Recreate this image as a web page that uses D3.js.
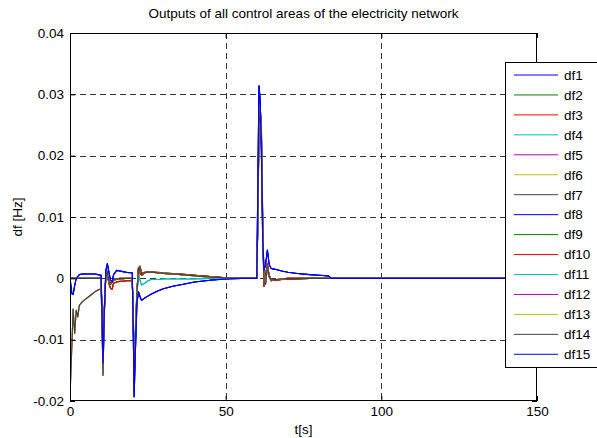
<!DOCTYPE html>
<html><head><meta charset="utf-8">
<script src="https://cdn.jsdelivr.net/npm/d3@7"></script>
<style>body{margin:0;background:#fff} svg{display:block}</style>
</head><body><svg id="c" width="597" height="438"></svg>
<script>
// ---------------- data ----------------
const time = [
  0, 0.3, 0.6, 1, 1.5, 2, 2.5, 3, 4, 5, 6, 7, 8, 9, 10,
  10.3, 10.6, 11, 11.5, 12, 12.5, 13, 13.5, 14, 15, 16, 17, 18, 19, 20,
  20.3, 20.6, 21, 21.5, 22, 22.5, 23, 24, 25, 26, 28, 30, 33, 36, 40, 45, 50, 55, 60,
  60.3, 60.7, 61.1, 61.5, 61.9, 62.3, 62.8, 63.4, 64, 64.6, 65.5, 66.5, 68, 70, 73, 77, 80, 83, 84,
  90, 100, 110, 120, 130, 140, 150
];
const blueArea = [
  0, -0.0012, -0.0025, -0.0026, -0.0012, 0.0000, 0.0003, 0.0006, 0.0007, 0.0007, 0.0007, 0.0007, 0.0007, 0.0006, 0.0005,
  -0.006, -0.0138, -0.006, 0.0012, 0.0024, 0.0010, -0.0003, -0.0006, 0.0006, 0.0013, 0.0012, 0.0011, 0.0010, 0.0009, 0.0009,
  -0.008, -0.0193, -0.012, -0.004, -0.0022, -0.0030, -0.0036, -0.0032, -0.0029, -0.0026, -0.0021, -0.0017, -0.0013, -0.0010, -0.0006, -0.0003, -0.0001, 0, 0,
  0.014, 0.0314, 0.029, 0.020, 0.006, 0.0013, 0.0022, 0.0046, 0.0022, 0.0016, 0.0015, 0.0014, 0.0012, 0.0010, 0.0008, 0.0006, 0.0005, 0.0004, 0,
  0, 0, 0, 0, 0, 0, 0
];
const redArea = [
  0, 0, 0, 0, 0, 0, 0, 0, 0, 0, 0, 0, 0, 0, 0,
  -0.007, -0.0136, -0.005, 0.0002, 0.0005, -0.0008, -0.0016, -0.0018, -0.0008, -0.0006, -0.0005, -0.0005, -0.0004, -0.0004, -0.0004,
  -0.006, -0.0155, -0.009, -0.002, 0.0018, 0.0008, 0.0005, 0.0009, 0.0010, 0.0010, 0.0009, 0.0008, 0.0007, 0.0006, 0.0005, 0.0003, 0.0001, 0, 0,
  0.008, 0.024, 0.0275, 0.022, 0.008, -0.0013, 0.0005, 0.0024, 0.0002, -0.0004, -0.0003, -0.0003, -0.0002, -0.0002, -0.0001, 0, 0, 0, 0,
  0, 0, 0, 0, 0, 0, 0
];
const grayStart = [
  -0.0195, -0.015, -0.011, -0.005, -0.009, -0.0052, -0.0063, -0.0044, -0.0038, -0.0034, -0.0030, -0.0026, -0.0022, -0.0019, -0.0017,
  -0.008, -0.0158, -0.006, 0.0005, 0.0012, -0.0004, -0.0010, -0.0007, -0.0003, -0.0002, -0.0001, -0.0001, 0, 0, 0,
  -0.007, -0.0165, -0.010, -0.003, 0.0015, 0.0020, 0.0009, 0.0010, 0.0011, 0.0011, 0.0010, 0.0009, 0.0008, 0.0007, 0.0005, 0.0003, 0.0001, 0, 0,
  0.009, 0.025, 0.028, 0.024, 0.010, 0.0000, -0.0008, 0.0018, 0.0005, -0.0002, -0.0002, -0.0002, -0.0001, 0, 0, 0, 0, 0, 0,
  0, 0, 0, 0, 0, 0, 0
];
const grayLate = [
  0, 0, 0, 0, 0, 0, 0, 0, 0, 0, 0, 0, 0, 0, 0,
  -0.0075, -0.0150, -0.0055, 0.0004, 0.0010, -0.0005, -0.0008, -0.0005, -0.0002, -0.0001, 0, 0, 0, 0, 0,
  -0.0065, -0.016, -0.0095, -0.0025, 0.0016, 0.0018, 0.0008, 0.0009, 0.0010, 0.0010, 0.0009, 0.0008, 0.0007, 0.0006, 0.0004, 0.0002, 0.0001, 0, 0,
  0.0085, 0.0245, 0.0278, 0.023, 0.009, -0.0006, -0.0010, 0.0020, 0.0003, -0.0003, -0.0002, -0.0002, -0.0001, 0, 0, 0, 0, 0, 0,
  0, 0, 0, 0, 0, 0, 0
];
const cyanArea = [
  0, 0, 0, 0, 0, 0, 0, 0, 0, 0, 0, 0, 0, 0, 0,
  -0.0075, -0.0150, -0.0055, 0.0004, 0.0010, -0.0005, -0.0008, -0.0005, -0.0002, -0.0001, 0, 0, 0, 0, 0,
  -0.006, -0.015, -0.008, -0.002, 0.0012, -0.0004, -0.0011, -0.0008, -0.0004, -0.0002, -0.0002, -0.0001, -0.0001, -0.0001, -0.0001, 0, 0, 0, 0,
  0.0085, 0.0245, 0.0278, 0.023, 0.009, -0.0006, -0.0010, 0.0020, 0.0003, -0.0003, -0.0002, -0.0002, -0.0001, 0, 0, 0, 0, 0, 0,
  0, 0, 0, 0, 0, 0, 0
];
const seriesNames = ["df1","df2","df3","df4","df5","df6","df7","df8","df9","df10","df11","df12","df13","df14","df15"];
const seriesValues = [blueArea, redArea, redArea, cyanArea, grayStart, grayStart, grayStart,
                      blueArea, redArea, redArea, cyanArea, grayLate, grayLate, grayLate, blueArea];
const seriesColors = ["#0000ff","#008000","#ff0000","#00bfbf","#bf00bf","#bfbf00","#404040",
                      "#0000ff","#008000","#ff0000","#00bfbf","#bf00bf","#bfbf00","#404040","#0000ff"];
const xTicks = [0, 50, 100, 150];
const yTicks = [-0.02, -0.01, 0, 0.01, 0.02, 0.03, 0.04];
const yTickLabels = ["-0.02", "-0.01", "0", "0.01", "0.02", "0.03", "0.04"];
const titleText = "Outputs of all control areas of the electricity network";
const xLabel = "t[s]";
const yLabel = "df [Hz]";

// ---------------- drawing ----------------
const FONT = "'Liberation Sans', Arial, sans-serif";
const FS = 13.5;
const m = {left: 70, right: 537, top: 33, bottom: 401};
const x = d3.scaleLinear().domain([0, 150]).range([m.left, m.right]);
const y = d3.scaleLinear().domain([-0.02, 0.04]).range([m.bottom, m.top]);
const svg = d3.select("#c");
svg.append("rect").attr("width", 597).attr("height", 438).attr("fill", "#fff");

// grid
const grid = svg.append("g").attr("stroke", "#000").attr("stroke-width", 0.8)
  .attr("stroke-dasharray", "6,4").attr("fill", "none");
xTicks.filter(t => t > 0 && t < 150).forEach(t => {
  const px = Math.round(x(t)) + 0.5;
  grid.append("line").attr("x1", px).attr("x2", px).attr("y1", m.top).attr("y2", m.bottom);
});
yTicks.filter(t => t > -0.02 && t < 0.04).forEach(t => {
  const py = Math.round(y(t)) + 0.5;
  grid.append("line").attr("x1", m.left).attr("x2", m.right).attr("y1", py).attr("y2", py);
});

// lines
const clip = svg.append("clipPath").attr("id", "pc").append("rect")
  .attr("x", m.left).attr("y", m.top).attr("width", m.right - m.left).attr("height", m.bottom - m.top);
const line = d3.line().x((d, i) => x(time[i])).y(d => y(d));
const lg = svg.append("g").attr("clip-path", "url(#pc)");
seriesValues.forEach((vals, k) => {
  lg.append("path").datum(vals).attr("d", line).attr("fill", "none")
    .attr("stroke", seriesColors[k]).attr("stroke-width", 1.1).attr("stroke-linejoin", "round");
});

// axes
function styleAxis(g, showLabels) {
  g.select(".domain").remove();
  g.selectAll(".tick line").attr("stroke", "#000");
  g.selectAll(".tick text").attr("font-family", FONT).attr("font-size", FS).attr("fill", "#000");
  if (!showLabels) g.selectAll(".tick text").remove();
}
svg.append("g").attr("transform", `translate(0,${m.bottom})`)
  .call(d3.axisBottom(x).tickValues(xTicks).tickSize(-5).tickPadding(5).tickFormat(d3.format("d")))
  .call(g => styleAxis(g, true));
svg.append("g").attr("transform", `translate(0,${m.top})`)
  .call(d3.axisTop(x).tickValues(xTicks).tickSize(-5))
  .call(g => styleAxis(g, false));
svg.append("g").attr("transform", `translate(${m.left},0)`)
  .call(d3.axisLeft(y).tickValues(yTicks).tickSize(-5).tickPadding(6).tickFormat((d, i) => yTickLabels[i]))
  .call(g => styleAxis(g, true));
svg.append("g").attr("transform", `translate(${m.right},0)`)
  .call(d3.axisRight(y).tickValues(yTicks).tickSize(-5))
  .call(g => styleAxis(g, false));

svg.append("rect").attr("x", m.left + 0.5).attr("y", m.top + 0.5)
  .attr("width", m.right - m.left - 1).attr("height", m.bottom - m.top - 1)
  .attr("fill", "none").attr("stroke", "#000").attr("stroke-width", 1);

// title & labels
svg.append("text").attr("x", (m.left + m.right) / 2).attr("y", 18).attr("text-anchor", "middle")
  .attr("font-family", FONT).attr("font-size", FS).text(titleText);
svg.append("text").attr("x", (m.left + m.right) / 2).attr("y", 434).attr("text-anchor", "middle")
  .attr("font-family", FONT).attr("font-size", FS).text(xLabel);
svg.append("text").attr("transform", `translate(22,${(m.top + m.bottom) / 2}) rotate(-90)`)
  .attr("text-anchor", "middle").attr("font-family", FONT).attr("font-size", FS).text(yLabel);

// legend
const leg = svg.append("g");
leg.append("rect").attr("x", 505.5).attr("y", 62.5).attr("width", 110).attr("height", 305)
  .attr("fill", "#fff").attr("stroke", "#000").attr("stroke-width", 1);
seriesNames.forEach((name, k) => {
  const cy = 75 + k * 19.95;
  leg.append("line").attr("x1", 514).attr("x2", 558).attr("y1", cy).attr("y2", cy)
    .attr("stroke", seriesColors[k]).attr("stroke-width", 1);
  leg.append("text").attr("x", 564).attr("y", cy + 4.8).attr("font-family", FONT)
    .attr("font-size", FS).text(name);
});
</script></body></html>
